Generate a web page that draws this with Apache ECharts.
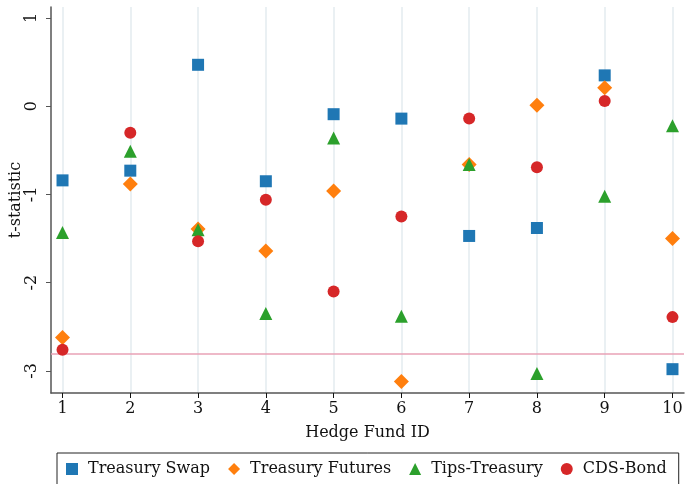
<!DOCTYPE html>
<html><head><meta charset="utf-8">
<script src="https://cdn.jsdelivr.net/npm/echarts@6/dist/echarts.min.js"></script>
<style>html,body{margin:0;padding:0;background:#fff}#c{width:685px;height:484px}</style>
</head><body><div id="c"></div>
<script>
const fundIds = [1,2,3,4,5,6,7,8,9,10];
const treasurySwap    = [-0.84, -0.73, 0.47, -0.85, -0.09, -0.14, -1.47, -1.38, 0.35, -2.98];
const treasuryFutures = [-2.62, -0.88, -1.39, -1.64, -0.96, -3.12, -0.66, 0.01, 0.21, -1.50];
const tipsTreasury    = [-1.43, -0.51, -1.40, -2.35, -0.36, -2.38, -0.66, -3.03, -1.02, -0.22];
const cdsBond         = [-2.76, -0.30, -1.53, -1.06, -2.10, -1.25, -0.14, -0.69, 0.06, -2.39];
const xTicks = [1,2,3,4,5,6,7,8,9,10];
const yTicks = [-3,-2,-1,0,1];
const criticalValue = -2.81;
const seriesNames = ['Treasury Swap','Treasury Futures','Tips-Treasury','CDS-Bond'];

const FONT = 'DejaVu Serif';
const FS = 16;
const pts = arr => fundIds.map((x,i)=>[x, arr[i]]);
const chart = echarts.init(document.getElementById('c'), null, {renderer:'canvas'});
const mk = (name, data, symbol, size, color, extra) => Object.assign({
  name, type:'scatter', data: pts(data), symbol, symbolSize: size,
  itemStyle:{color, opacity:1}, emphasis:{disabled:true}, z:3
}, extra||{});

chart.setOption({
  animation:false,
  grid:{left:51, right:1, top:7, bottom:91, containLabel:false, outerBoundsMode:'none'},
  xAxis:{
    type:'value', min:0.83, max:10.17,
    name:'Hedge Fund ID', nameLocation:'middle', nameGap:32, nameMoveOverlap:false,
    nameTextStyle:{fontFamily:FONT, fontSize:FS, color:'#111'},
    axisLine:{show:true, onZero:false, lineStyle:{color:'#555', width:1.5}},
    axisTick:{show:true, length:5, customValues:xTicks, lineStyle:{color:'#111', width:1}},
    axisLabel:{customValues:xTicks, fontFamily:FONT, fontSize:FS, color:'#111', margin:8},
    splitLine:{show:true, lineStyle:{color:'#e3ebef', width:1.5}}
  },
  yAxis:{
    type:'value', min:-3.25, max:1.125,
    name:'t-statistic', nameLocation:'middle', nameGap:27, nameRotate:90, nameMoveOverlap:false,
    nameTextStyle:{fontFamily:FONT, fontSize:FS, color:'#111'},
    axisLine:{show:true, onZero:false, lineStyle:{color:'#555', width:1.5}},
    axisTick:{show:true, length:5, customValues:yTicks, lineStyle:{color:'#555', width:1}},
    axisLabel:{customValues:yTicks, rotate:90, fontFamily:FONT, fontSize:FS, color:'#111', margin:11},
    splitLine:{show:false}
  },
  legend:{
    left:57, top:453, orient:'horizontal',
    padding:[8,12,30,9], itemGap:18, itemWidth:12, itemHeight:12,
    borderColor:'#222', borderWidth:1,
    textStyle:{fontFamily:FONT, fontSize:FS, color:'#111', padding:[0,0,0,5]},
    data:[
      {name:seriesNames[0], icon:'rect'},
      {name:seriesNames[1], icon:'diamond'},
      {name:seriesNames[2], icon:'triangle'},
      {name:seriesNames[3], icon:'circle'}
    ]
  },
  series:[
    mk(seriesNames[0], treasurySwap, 'rect', 12, '#1f77b4', {
      markLine:{silent:true, symbol:['none','none'], label:{show:false},
        lineStyle:{color:'#e9a2b6', width:1.5, type:'solid'},
        data:[{yAxis:criticalValue}], z:1}
    }),
    mk(seriesNames[1], treasuryFutures, 'diamond', 15, '#ff7f0e'),
    mk(seriesNames[2], tipsTreasury, 'triangle', 13, '#2ca02c'),
    mk(seriesNames[3], cdsBond, 'circle', 12, '#d62728')
  ]
});
</script></body></html>
